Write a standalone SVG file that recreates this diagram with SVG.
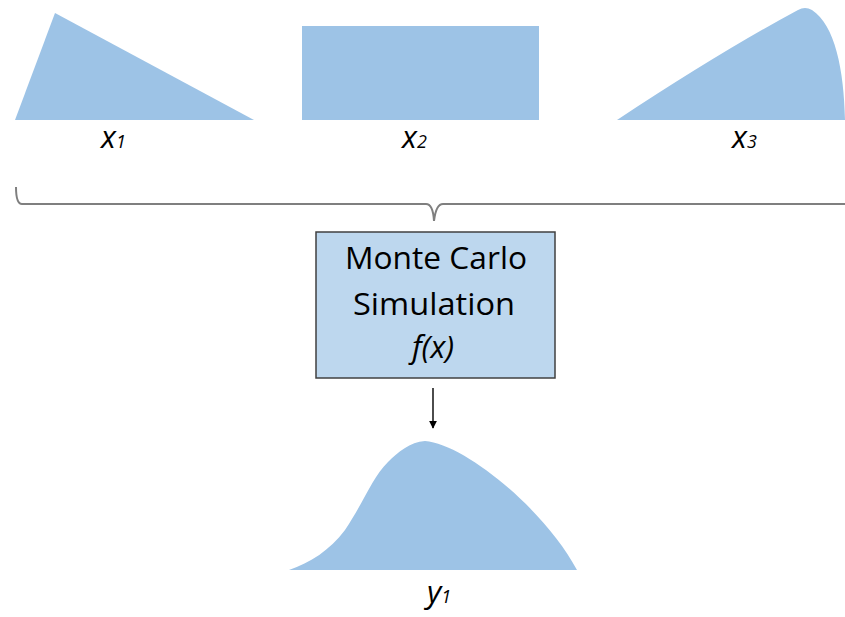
<svg xmlns="http://www.w3.org/2000/svg" width="845" height="617" viewBox="0 0 845 617">
<style>
.dist{fill:#9DC3E6;stroke:none}
.lbl{font-family:"Open Sans","Liberation Sans",sans-serif;font-style:italic;font-size:31px;fill:#000}
.sub{font-size:18px}
.box{fill:#BDD7EE;stroke:#404040;stroke-width:1.5}
.boxt{font-family:"Open Sans","Liberation Sans",sans-serif;font-size:31px;fill:#000;text-anchor:middle}
.brace{fill:none;stroke:#7f7f7f;stroke-width:2}
.arr{stroke:#000;stroke-width:1.4;fill:none}
</style>
<defs>
<marker id="ah" viewBox="0 0 10 10" refX="9" refY="5" markerWidth="8" markerHeight="8" markerUnits="userSpaceOnUse" orient="auto">
<path d="M0,0 L10,5 L0,10 Z" fill="#000"/>
</marker>
</defs>
<rect width="845" height="617" fill="#fff"/>
<g id="x1">
<path class="dist" d="M55,13 L15,120 L254,120 Z"/>
<text class="lbl" x="101" y="148">x<tspan class="sub">1</tspan></text>
</g>
<g id="x2">
<rect class="dist" x="302" y="26" width="237" height="94"/>
<text class="lbl" x="402" y="148">x<tspan class="sub">2</tspan></text>
</g>
<g id="x3">
<path class="dist" d="M617,120 Q720,52 798,10 Q805,6 812,10 C835,25 844,70 845,120 Z"/>
<text class="lbl" x="732" y="148">x<tspan class="sub">3</tspan></text>
</g>
<g id="sim">
<rect class="box" x="316" y="232" width="239" height="146"/>
<text class="boxt" x="436" y="269" textLength="182" lengthAdjust="spacingAndGlyphs">Monte Carlo</text>
<text class="boxt" x="434" y="315" textLength="162" lengthAdjust="spacingAndGlyphs">Simulation</text>
<text class="boxt" x="433" y="358" font-style="italic">f(x)</text>
</g>
<g id="y1">
<path class="dist" d="M289,570 C310,563 330,550 345,530 C365,500 372,478 388,462 C398,452 410,442 425,441 C465,444 545,510 577,570 Z"/>
<text class="lbl" x="427" y="603">y<tspan class="sub">1</tspan></text>
</g>
<g id="connectors">
<path class="brace" d="M16,187 Q16,204 22,204 L426,204 Q433,204 434,221 Q436,204 443,204 L845,204"/>
<line class="arr" x1="433" y1="388" x2="433" y2="428" marker-end="url(#ah)"/>
</g>
</svg>
